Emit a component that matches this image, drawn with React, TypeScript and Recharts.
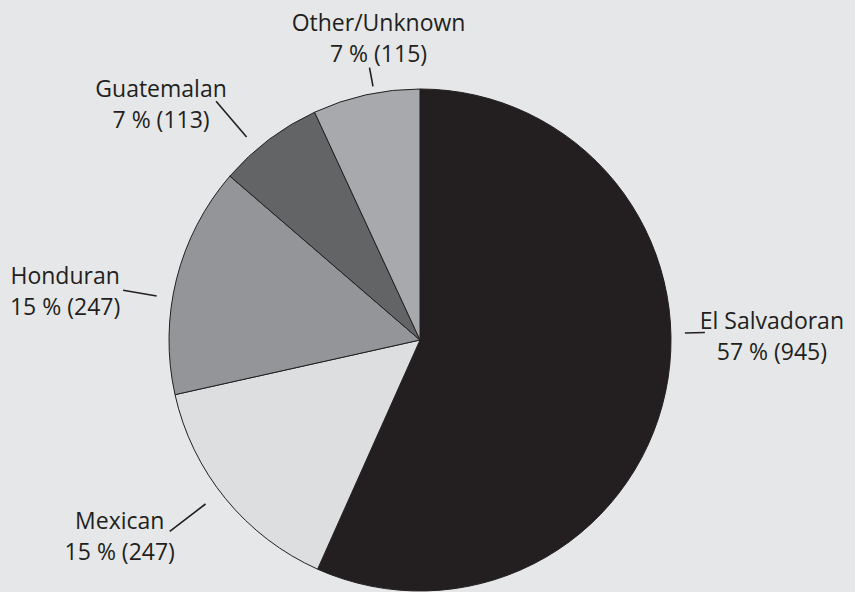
import React from 'react';
import { PieChart, Pie, Cell } from 'recharts';

const groups = ['El Salvadoran', 'Mexican', 'Honduran', 'Guatemalan', 'Other/Unknown'];
const counts = [945, 247, 247, 113, 115];
const sliceColors = ['#231f20', '#dddee0', '#939598', '#636466', '#a7a9ac'];

// leader line: polar angle (deg), inner/outer radius; text offset from line end
const leaders = [
  { angle: 1.5, r1: 265, r2: 285, dx: 67, dy: -4, anchor: 'middle' },
  { angle: 217.4, r1: 270, r2: 315, dx: -50, dy: -2, anchor: 'middle' },
  { angle: 170.5, r1: 267, r2: 301, dx: -58, dy: -6, anchor: 'middle' },
  { angle: 130.5, r1: 267, r2: 314, dx: -55, dy: -4, anchor: 'middle' },
  { angle: 100.5, r1: 258, r2: 277, dx: 9, dy: -37, anchor: 'middle' },
];

const data = groups.map((name, i) => ({ name, value: counts[i] }));
const total = counts.reduce((a, b) => a + b, 0);

const RAD = Math.PI / 180;

const renderLabel = (props: any) => {
  const { cx, cy, index, value, name } = props;
  const l = leaders[index];
  const x1 = cx + l.r1 * Math.cos(l.angle * RAD);
  const y1 = cy - l.r1 * Math.sin(l.angle * RAD);
  const x2 = cx + l.r2 * Math.cos(l.angle * RAD);
  const y2 = cy - l.r2 * Math.sin(l.angle * RAD);
  const pct = Math.round((value / total) * 100);
  return (
    <g key={`lbl-${index}`}>
      <line x1={x1} y1={y1} x2={x2} y2={y2} stroke="#231f20" strokeWidth={1.6} />
      <text x={x2 + l.dx} y={y2 + l.dy} textAnchor={l.anchor} fill="#231f20" fontSize={23} fontFamily="'Open Sans', sans-serif">
        {name}
      </text>
      <text x={x2 + l.dx} y={y2 + l.dy + 31} textAnchor={l.anchor} fill="#231f20" fontSize={23} fontFamily="'Open Sans', sans-serif">
        {`${pct} % (${value})`}
      </text>
    </g>
  );
};

export default function App() {
  return (
    <div style={{ width: 855, height: 592, background: '#e6e7e8' }}>
      <style>{`body{margin:0}`}</style>
      <PieChart width={855} height={592}>
        <Pie
          data={data}
          dataKey="value"
          nameKey="name"
          cx={415}
          cy={335}
          outerRadius={251}
          startAngle={90}
          endAngle={-270}
          stroke="#231f20"
          strokeWidth={1}
          label={renderLabel}
          labelLine={false}
          isAnimationActive={false}
        >
          {data.map((d, i) => (
            <Cell key={d.name} fill={sliceColors[i]} />
          ))}
        </Pie>
      </PieChart>
    </div>
  );
}
